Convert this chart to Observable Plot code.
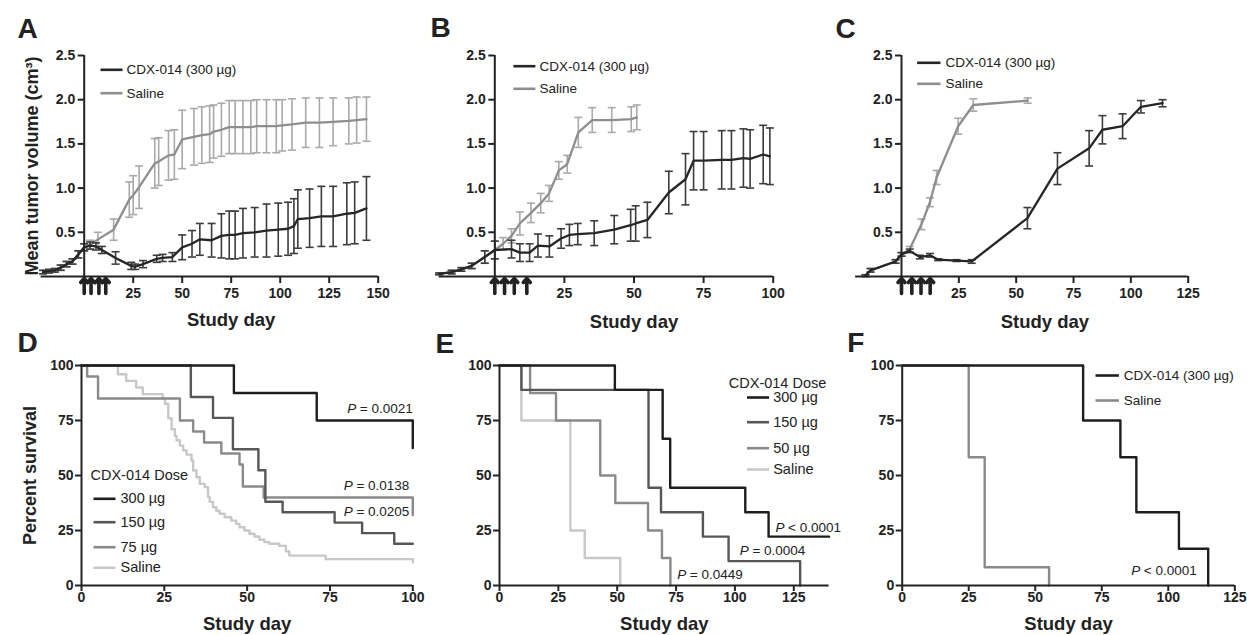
<!DOCTYPE html>
<html><head><meta charset="utf-8">
<script src="https://cdn.jsdelivr.net/npm/d3@7"></script>
<script src="https://cdn.jsdelivr.net/npm/@observablehq/plot@0.6"></script>
<style>
html,body{margin:0;padding:0;background:#fff;}
#root{position:relative;width:1247px;height:635px;overflow:hidden;background:#fff;}
#root svg{position:absolute;overflow:visible;}
</style></head><body><div id="root"></div>
<script>
// ---------- Panel A: tumor volume ----------
const aSalDay  = [-21,-18,-15,-12,-9,-6,-3,0,3,7,15,23,25,28,36,38,43,46,50,56,60,64,66,70,74,77,81,85,88,93,98,101,106,113,120,127,135,139,144];
const aSalMean = [0.05,0.06,0.07,0.1,0.14,0.17,0.25,0.33,0.36,0.42,0.53,0.87,0.92,1.01,1.28,1.3,1.37,1.38,1.55,1.58,1.6,1.61,1.64,1.66,1.69,1.69,1.69,1.69,1.7,1.7,1.7,1.71,1.72,1.74,1.74,1.75,1.76,1.77,1.78];
const aSalErr  = [0.02,0.02,0.02,0.03,0.03,0.03,0.04,0.04,0.05,0.08,0.12,0.2,0.22,0.24,0.28,0.27,0.28,0.28,0.33,0.32,0.32,0.32,0.3,0.3,0.3,0.3,0.3,0.3,0.3,0.3,0.3,0.29,0.29,0.28,0.28,0.27,0.26,0.26,0.25];
const aCdxDay  = [-21,-18,-15,-12,-9,-6,-3,0,3,6,9,16,24,26,30,37,40,45,50,55,59,65,70,74,77,81,87,93,99,104,107,109,115,121,127,134,138,144];
const aCdxMean = [0.05,0.06,0.07,0.1,0.14,0.17,0.25,0.33,0.35,0.34,0.3,0.21,0.12,0.11,0.14,0.2,0.21,0.22,0.33,0.37,0.42,0.41,0.46,0.47,0.47,0.49,0.5,0.52,0.53,0.54,0.57,0.65,0.66,0.68,0.68,0.71,0.72,0.77];
const aCdxErr  = [0.02,0.02,0.02,0.03,0.03,0.03,0.04,0.04,0.04,0.04,0.04,0.07,0.04,0.03,0.04,0.04,0.04,0.05,0.14,0.15,0.18,0.19,0.25,0.27,0.27,0.28,0.28,0.3,0.3,0.3,0.31,0.33,0.33,0.34,0.34,0.35,0.35,0.36];
const aXTicks = [25,50,75,100,125,150];
const aAxisX = [-22,150];
const aDoses = [0,3.5,7.5,11];

// ---------- Panel B ----------
const bSalDay  = [-20,-15.5,-12,-8.3,-3.6,0,3,6,9,13,16.5,19.5,23,26,30,35,42,49,51];
const bSalMean = [0.03,0.05,0.08,0.12,0.22,0.3,0.37,0.46,0.6,0.72,0.83,0.94,1.2,1.27,1.63,1.77,1.77,1.78,1.8];
const bSalErr  = [0.01,0.02,0.02,0.03,0.07,0.1,0.07,0.08,0.13,0.11,0.11,0.09,0.1,0.1,0.17,0.14,0.14,0.14,0.14];
const bCdxDay  = [-20,-15.5,-12,-8.3,-3.6,0,6,9,12.5,15.5,19.6,23.8,26.8,29.8,35.7,42.9,48.8,50.6,54.8,62.5,68.5,71.4,75,81.5,85,89.3,91.7,96.4,98.8];
const bCdxMean = [0.03,0.05,0.08,0.12,0.22,0.3,0.31,0.27,0.27,0.35,0.34,0.43,0.47,0.48,0.49,0.53,0.58,0.6,0.64,0.95,1.1,1.31,1.31,1.32,1.32,1.34,1.33,1.38,1.36];
const bCdxErr  = [0.01,0.02,0.02,0.03,0.07,0.1,0.1,0.1,0.1,0.13,0.12,0.11,0.12,0.12,0.14,0.16,0.18,0.2,0.2,0.24,0.29,0.33,0.33,0.33,0.33,0.33,0.33,0.33,0.32];
const bXTicks = [25,50,75,100];
const bAxisX = [-20,100];
const bDoses = [0,3.5,7,11.5];

// ---------- Panel C ----------
const cSalDay  = [-15.7,-13.5,-2.6,0,3.6,8.7,12.4,15.3,24.7,31.3,55];
const cSalMean = [0.01,0.07,0.17,0.25,0.31,0.59,0.84,1.12,1.7,1.94,1.99];
const cSalErr  = [0.01,0.02,0.02,0.02,0.03,0.06,0.05,0.08,0.09,0.07,0.03];
const cCdxDay  = [-15.7,-13.5,-2.6,0,3.6,8,12.4,16,24,30.6,54.9,68,81.8,87.6,96.4,104.4,113.8];
const cCdxMean = [0.01,0.07,0.17,0.25,0.29,0.22,0.24,0.19,0.18,0.17,0.66,1.22,1.45,1.66,1.7,1.92,1.96];
const cCdxErr  = [0.01,0.02,0.02,0.02,0.02,0.02,0.02,0.01,0.01,0.02,0.12,0.18,0.2,0.16,0.14,0.07,0.04];
const cXTicks = [25,50,75,100,125];
const cAxisX = [-20,125];
const cDoses = [0,4.5,8.5,12.5];

const volYTicks = [0.5,1,1.5,2,2.5];
const volLegend = ["CDX-014 (300 µg)","Saline"];

// ---------- Panel D: survival ----------
const d300 = [[0,100],[46,87.5],[71,75],[100,62.5]];
const d150 = [[0,100],[33,85.7],[39.7,76.2],[45.7,61.9],[53.4,52.4],[55.5,38.1],[60.7,33.3],[76.4,28.6],[84.7,23.8],[94.4,19],[100,19]];
const d75  = [[0,100],[1.7,95],[5,85],[29.7,75],[33.7,70],[37,65],[42.2,60],[47.7,55],[48.7,45],[55,40],[100,32]];
const dSal = [[0,100],[11,96],[13.5,93],[16.5,90],[18.5,87],[24.5,85],[25.2,82.6],[26.2,76],[27.2,71],[28.2,68],[28.7,66],[29.7,63.6],[30.7,61.4],[31.7,59.5],[33.2,56.8],[33.7,52.3],[34.7,49.2],[35.7,46.2],[37.2,44.7],[38.2,40.2],[38.7,38],[39.7,35.6],[40.7,34],[41.7,32.6],[43.2,31],[45.2,29.5],[46.7,28],[47.7,26.5],[49.2,25],[50.7,23.5],[52.2,22.3],[53.7,20.8],[55.2,19.7],[56.7,19],[59.7,18],[61.7,15.5],[62.7,13.6],[73.7,12],[100,10.6]];
const dLegend = ["300 µg","150 µg","75 µg","Saline"];
const dPvals = [["=","0.0021"],["=","0.0138"],["=","0.0205"]];
const dXTicks = [0,25,50,75,100];

// ---------- Panel E ----------
const e300 = [[0,100],[49,88.9],[69.3,66.7],[72.5,44.4],[104.4,33.3],[114.3,22.2],[140,22.2]];
const e150 = [[0,100],[9.3,88.9],[63.3,44.4],[68.6,33.3],[86.4,22.2],[97.3,11.1],[127.7,0]];
const e50  = [[0,100],[13,87.5],[24,75],[42.8,50],[49.2,37.5],[63.1,25],[69,12.5],[72.6,0]];
const eSal = [[0,100],[9.3,75],[30.1,25],[36.2,12.5],[51.3,0]];
const eLegend = ["300 µg","150 µg","50 µg","Saline"];
const ePvals = [["<","0.0001"],["=","0.0004"],["=","0.0449"]];
const eXTicks = [0,25,50,75,100,125];

// ---------- Panel F ----------
const fCdx = [[0,100],[68,75],[82,58.3],[88,33.3],[104,16.7],[115,0]];
const fSal = [[0,100],[25,58.3],[31,8.3],[55.2,0]];
const fLegend = ["CDX-014 (300 µg)","Saline"];
const fPvals = [["<","0.0001"]];
const fXTicks = [0,25,50,75,100,125];
const survYTicks = [0,25,50,75,100];

// ---------- helpers ----------
const FONT = 'Arial, "Liberation Sans", Helvetica, sans-serif';
const INK = "#222";
const root = document.getElementById("root");
const hline = {draw(ctx, size){ const w = Math.sqrt(size/Math.PI); ctx.moveTo(-w,0); ctx.lineTo(w,0); }};
const upArrow = {draw(ctx, l){ ctx.moveTo(0,0); ctx.lineTo(0,-l+2); ctx.moveTo(-3.5,-l+5); ctx.lineTo(0,-l+1); ctx.lineTo(3.5,-l+5); }};
const rows = (day, mean, err) => day.map((d,i)=>({day:d, v:mean[i], e:err[i]}));
const steps = arr => arr.map(([t,p])=>({t,p}));

function ftext(str, o){
  return Plot.text([str], {frameAnchor: o.anchor || "top-left", text: d=>d, dx: o.dx || 0, dy: o.dy || 0,
    textAnchor: o.ta || "start", lineAnchor: "middle", fontSize: o.size, fontWeight: o.weight || "normal",
    fontStyle: o.italic ? "italic" : "normal", rotate: o.rotate || 0, fill: INK});
}
function legendMarks(labels, colors, o){
  return labels.flatMap((lab,i)=>[
    Plot.dot([lab], {frameAnchor:"top-left", dx:o.sx, dy:o.dys[i], symbol:hline, r:o.half, stroke:colors[i], strokeWidth:2.6, fill:"none"}),
    ftext(lab, {dx:o.tx, dy:o.dys[i], size:o.size})
  ]);
}
function pMarks(pvals, pos, size){
  return pvals.flatMap(([sym,val],i)=>[
    ftext("P", {dx:pos[i][0], dy:pos[i][1], size, italic:true}),
    ftext(sym+" "+val, {dx:pos[i][0]+12.6, dy:pos[i][1], size})
  ]);
}
function errSeries(data, lineColor, barColor){
  return [
    Plot.ruleX(data, {x:"day", y1:d=>d.v-d.e, y2:d=>d.v+d.e, stroke:barColor, strokeWidth:1.6}),
    Plot.dot(data, {x:"day", y:d=>d.v+d.e, symbol:hline, r:4, stroke:barColor, strokeWidth:1.6, fill:"none"}),
    Plot.dot(data, {x:"day", y:d=>d.v-d.e, symbol:hline, r:4, stroke:barColor, strokeWidth:1.6, fill:"none"}),
    Plot.line(data, {x:"day", y:"v", stroke:lineColor, strokeWidth:2.3})
  ];
}
function place(svg, left, top){ svg.style.left = left+"px"; svg.style.top = top+"px"; root.appendChild(svg); }

function volumePanel(c){
  const svg = Plot.plot({
    width:c.w, height:330, marginLeft:c.ml, marginRight:c.mr, marginTop:55, marginBottom:54,
    x:{domain:c.xdom}, y:{domain:[0,2.5]},
    style:{fontFamily:FONT, color:INK, background:"transparent", overflow:"visible"},
    marks:[
      ...errSeries(rows(c.sal[0],c.sal[1],c.sal[2]), "#8e8e8e", "#a9a9a9"),
      ...errSeries(rows(c.cdx[0],c.cdx[1],c.cdx[2]), "#262626", "#3c3c3c"),
      Plot.ruleY([0], {x1:c.axisX[0], x2:c.axisX[1], stroke:INK, strokeWidth:2}),
      Plot.ruleX([0], {y1:0, y2:2.5, stroke:INK, strokeWidth:2}),
      Plot.axisX({ticks:c.xticks, tickSize:7, tickPadding:5, strokeWidth:2, fontSize:14, fontWeight:"bold", label:null, tickFormat:d=>String(d)}),
      Plot.axisY({ticks:volYTicks, tickSize:6, tickPadding:3, strokeWidth:2, fontSize:14, fontWeight:"bold", label:null, tickFormat:d3.format(".1f")}),
      Plot.vector(c.doses, {x:d=>d, y:d=>0, length:16, anchor:"start", rotate:0, dy:17, shape:upArrow, stroke:INK, strokeWidth:3.6}),
      ftext(c.letter, {dx:c.letterDx, dy:c.letterDy, size:28, weight:"bold"}),
      ftext("Study day", {anchor:"bottom", dy:c.xtDy, ta:"middle", size:18.5, weight:"bold"}),
      ...(c.ytitle ? [ftext(c.ytitle, {anchor:"left", dx:-51.7, ta:"middle", size:18, weight:"bold", rotate:-90})] : []),
      ...legendMarks(volLegend, ["#262626","#8e8e8e"], c.leg)
    ]
  });
  place(svg, c.left, 0);
}

function survivalPanel(c){
  const marks = [];
  c.series.forEach(([data,color])=>marks.push(Plot.line(steps(data), {x:"t", y:"p", curve:"step-after", stroke:color, strokeWidth:2.4})));
  const svg = Plot.plot({
    width:c.w, height:315, marginLeft:c.ml, marginRight:c.mr, marginTop:45, marginBottom:50,
    x:{domain:c.xdom}, y:{domain:[0,100]},
    style:{fontFamily:FONT, color:INK, background:"transparent", overflow:"visible"},
    marks:[
      ...marks,
      Plot.ruleY([0], {x1:c.xdom[0], x2:c.xdom[1], stroke:INK, strokeWidth:2}),
      Plot.ruleX([0], {y1:0, y2:100, stroke:INK, strokeWidth:2}),
      Plot.axisX({ticks:c.xticks, tickSize:6, tickPadding:1, strokeWidth:2, fontSize:14, fontWeight:"bold", label:null, tickFormat:d=>String(d)}),
      Plot.axisY({ticks:survYTicks, tickSize:6, tickPadding:2, strokeWidth:2, fontSize:14, fontWeight:"bold", label:null, tickFormat:d=>String(d)}),
      ftext(c.letter, {dx:c.letterDx, dy:c.letterDy, size:28, weight:"bold"}),
      ftext("Study day", {anchor:"bottom", dy:c.xtDy, ta:"middle", size:18.5, weight:"bold"}),
      ...(c.ytitle ? [ftext(c.ytitle, {anchor:"left", dx:-51, ta:"middle", size:18, weight:"bold", rotate:-90})] : []),
      ...(c.legTitle ? [ftext(c.legTitle, {dx:c.legTitlePos[0], dy:c.legTitlePos[1], size:c.leg.size})] : []),
      ...legendMarks(c.legLabels, c.series.map(s=>s[1]).slice().reverse(), c.leg),
      ...pMarks(c.pvals, c.ppos, 13.5)
    ]
  });
  place(svg, c.left, 320);
}

// ---------- build ----------
volumePanel({left:0, w:415, ml:83.7, mr:37.3, xdom:[0,150], axisX:aAxisX, xticks:aXTicks, doses:aDoses,
  sal:[aSalDay,aSalMean,aSalErr], cdx:[aCdxDay,aCdxMean,aCdxErr], letter:"A", letterDx:-66.7, letterDy:-26, xtDy:44,
  ytitle:"Mean tumor volume (cm³)", leg:{sx:27.3, tx:42.3, dys:[14.3,37.7], half:11, size:13.5}});
volumePanel({left:420, w:410, ml:74.3, mr:57.3, xdom:[0,100], axisX:bAxisX, xticks:bXTicks, doses:bDoses,
  sal:[bSalDay,bSalMean,bSalErr], cdx:[bCdxDay,bCdxMean,bCdxErr], letter:"B", letterDx:-64.3, letterDy:-27, xtDy:45.7,
  leg:{sx:29.6, tx:44.7, dys:[10.7,33.3], half:11, size:13.5}});
volumePanel({left:830, w:417, ml:71, mr:59.3, xdom:[0,125], axisX:cAxisX, xticks:cXTicks, doses:cDoses,
  sal:[cSalDay,cSalMean,cSalErr], cdx:[cCdxDay,cCdxMean,cCdxErr], letter:"C", letterDx:-66, letterDy:-26, xtDy:45.7,
  leg:{sx:27.3, tx:44, dys:[7.3,28.3], half:11.7, size:13.5}});

survivalPanel({left:0, w:420, ml:81, mr:7.7, xdom:[0,100], xticks:dXTicks,
  series:[[dSal,"#c8c8c8"],[d75,"#8a8a8a"],[d150,"#575757"],[d300,"#1e1e1e"]],
  letter:"D", letterDx:-64, letterDy:-22, xtDy:39, ytitle:"Percent survival",
  legTitle:"CDX-014 Dose", legTitlePos:[9,110], legLabels:dLegend,
  leg:{sx:23, tx:39, dys:[133.3,156.7,181.7,202.3], half:11, size:14.5},
  pvals:dPvals, ppos:[[265.7,43.3],[262.3,120],[262.3,145.7]]});
survivalPanel({left:420, w:410, ml:79, mr:1.4, xdom:[0,140], xticks:eXTicks,
  series:[[eSal,"#c8c8c8"],[e50,"#8a8a8a"],[e150,"#575757"],[e300,"#1e1e1e"]],
  letter:"E", letterDx:-64, letterDy:-21, xtDy:38.3,
  legTitle:"CDX-014 Dose", legTitlePos:[229.3,18.3], legLabels:eLegend,
  leg:{sx:258.5, tx:273.7, dys:[32,56.7,82.7,104], half:11, size:14.5},
  pvals:ePvals, ppos:[[276,161.7],[240.3,185],[177.7,209]]});
survivalPanel({left:830, w:417, ml:71.7, mr:12.7, xdom:[0,125], xticks:fXTicks,
  series:[[fSal,"#8a8a8a"],[fCdx,"#1e1e1e"]],
  letter:"F", letterDx:-55, letterDy:-22, xtDy:39,
  legLabels:fLegend,
  leg:{sx:205, tx:221.6, dys:[10,35], half:11.7, size:13.5},
  pvals:fPvals, ppos:[[229,205]]});
</script></body></html>
